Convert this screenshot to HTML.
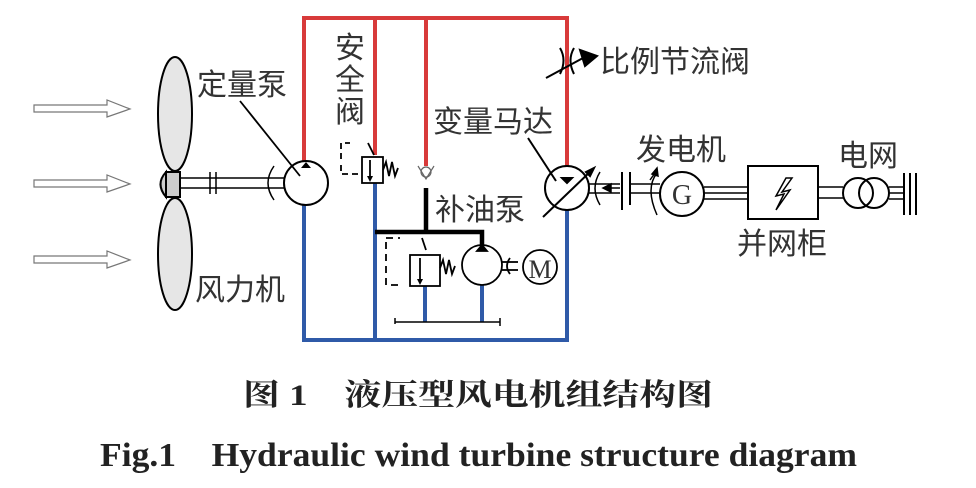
<!DOCTYPE html>
<html><head><meta charset="utf-8"><style>
body{margin:0;background:#fff}
svg{display:block}
text{font-family:"Liberation Sans","Noto Sans CJK SC",sans-serif;fill:#333}
</style></head><body>
<svg width="976" height="488" viewBox="0 0 976 488" xmlns="http://www.w3.org/2000/svg">
<defs>
<marker id="ar" markerUnits="userSpaceOnUse" markerWidth="6" markerHeight="6" refX="3" refY="3" orient="auto"><path d="M0,0 L6,3 L0,6 z" fill="#000"/></marker>
</defs>
<g fill="#fff" stroke="#777" stroke-width="1.2">
<path d="M34,105 H107 V100 L130,109 L107,117 V112 H34 z"/>
<path d="M34,180 H107 V175 L130,184 L107,192 V187 H34 z"/>
<path d="M34,256 H107 V251 L130,260 L107,268 V263 H34 z"/>
</g>
<g stroke="#000" stroke-width="2" fill="#e6e6e6">
<ellipse cx="175" cy="114" rx="17" ry="57"/>
<ellipse cx="175" cy="254" rx="17" ry="56"/>
<path d="M166,172 Q155,184 166,197 z" fill="#ccc"/>
<rect x="166" y="172" width="14" height="25" fill="#ccc"/>
</g>
<g stroke="#000" stroke-width="1.5" fill="none">
<line x1="180" y1="178" x2="284" y2="178"/><line x1="180" y1="188" x2="284" y2="188"/>
<line x1="210" y1="172" x2="210" y2="194"/><line x1="216" y1="172" x2="216" y2="194"/>
<path d="M274,166 Q262,183 274,200"/>
</g>
<g fill="none" stroke-width="4">
<path d="M304,161 V18 H567 V167" stroke="#d83a3a"/>
<path d="M375,18 V155" stroke="#d83a3a"/>
<path d="M426,18 V166" stroke="#d83a3a"/>
<path d="M304,205 V340 H567 V210" stroke="#2f5aa8"/>
<path d="M375,182 V340" stroke="#2f5aa8"/>
<path d="M425,285 V322 M482,285 V322" stroke="#2f5aa8"/>
<path d="M426,188 V232 M375,232 H482 V246" stroke="#000" stroke-width="4.5"/>
</g>
<circle cx="306" cy="183" r="22" fill="#fff" stroke="#000" stroke-width="2"/>
<path d="M301,168 L306,162 L311,168z" fill="#000"/>
<line x1="240" y1="101" x2="300" y2="176" stroke="#000" stroke-width="1.8"/>
<g stroke="#000" stroke-width="1.8" fill="#fff">
<rect x="362" y="157" width="21" height="26"/>
<line x1="370" y1="160" x2="370" y2="179" marker-end="url(#ar)"/>
<path d="M383,170 l3,-8 l3,14 l3,-14 l3,14 l3,-8" fill="none"/>
<path d="M345,143 H350 M341,143 V160 M341,165 V174 H362" fill="none" stroke-dasharray="6,4"/>
<line x1="368" y1="143" x2="374" y2="155"/>
</g>
<g stroke="#666" stroke-width="1.2" fill="#fff">
<circle cx="426" cy="172" r="5"/><path d="M418,166 L426,179 L434,166" fill="none"/>
</g>
<g stroke="#000" stroke-width="1.8" fill="#fff">
<rect x="410" y="255" width="30" height="31"/>
<line x1="420" y1="258" x2="420" y2="282" marker-end="url(#ar)"/>
<path d="M440,268 l3,-8 l3,14 l3,-14 l3,14 l3,-8" fill="none"/>
<path d="M386,238 H400 M386,242 V285 H400" fill="none" stroke-dasharray="7,5"/>
<line x1="422" y1="238" x2="426" y2="250"/>
<circle cx="482" cy="265" r="20"/>
<path d="M477,251 L482,245 L487,251z" fill="#000"/>
<line x1="502" y1="262" x2="518" y2="262"/><line x1="502" y1="270" x2="518" y2="270"/>
<path d="M510,258 Q504,266 510,274" fill="none"/>
<circle cx="540" cy="267" r="17"/>
<path d="M395,324 V318 M395,322 H500 M500,318 V326" fill="none" stroke-width="1.5"/>
</g>
<text x="540" y="278" font-size="26" text-anchor="middle" style="font-family:'Liberation Serif',serif">M</text>
<g stroke="#000" stroke-width="2" fill="none">
<path d="M560,48 Q567,60 560,74 M574,48 Q567,60 574,74"/>
<line x1="546" y1="78" x2="583" y2="58"/>
<path d="M580,50 L597,56 L585,66 z" fill="#000"/>
</g>
<g stroke="#000" stroke-width="2" fill="#fff">
<circle cx="567" cy="188" r="22"/>
<path d="M562,178 L567,183 L572,178 z" fill="#000"/>
<line x1="543" y1="217" x2="593" y2="169"/>
<path d="M586,172 L594,168 L590,176 z" fill="#000"/>
<line x1="528" y1="138" x2="556" y2="181"/>
</g>
<g stroke="#000" stroke-width="1.5" fill="none">
<line x1="589" y1="184" x2="620" y2="184"/><line x1="589" y1="193" x2="620" y2="193"/>
<path d="M600,172 Q590,188 600,205"/>
<path d="M620,188 L605,188" /><path d="M603,188 l8,-4 v8 z" fill="#000"/>
<line x1="622" y1="172" x2="622" y2="210" stroke-width="2"/>
<line x1="630" y1="172" x2="630" y2="205" stroke-width="2"/>
<line x1="630" y1="184" x2="660" y2="184"/><line x1="630" y1="193" x2="660" y2="193"/>
<path d="M657,173 Q645,188 657,215"/>
<path d="M650,180 l5,-7"/><path d="M657,168 l1,8 l-6,-2 z" fill="#000"/>
<circle cx="682" cy="194" r="22" stroke-width="2"/>
<line x1="704" y1="187" x2="748" y2="187"/><line x1="704" y1="193" x2="748" y2="193"/><line x1="704" y1="199" x2="748" y2="199"/>
<rect x="748" y="166" width="70" height="53" stroke-width="2"/>
<line x1="818" y1="187" x2="843" y2="187"/><line x1="818" y1="198" x2="843" y2="198"/>
<circle cx="858" cy="193" r="15" stroke-width="2"/><circle cx="874" cy="193" r="15" stroke-width="2"/>
<line x1="889" y1="187" x2="904" y2="187"/><line x1="889" y1="193" x2="904" y2="193"/><line x1="889" y1="199" x2="904" y2="199"/>
<line x1="904" y1="173" x2="904" y2="215" stroke-width="2"/><line x1="910" y1="173" x2="910" y2="215" stroke-width="2"/><line x1="916" y1="173" x2="916" y2="215" stroke-width="2"/>
</g>
<path d="M786,178 L776,196 L784,194 L776,210 L790,190 L782,192 L792,178 z" fill="#fff" stroke="#000" stroke-width="1.5"/>
<text x="682" y="204" font-size="28" text-anchor="middle" style="font-family:'Liberation Serif',serif">G</text>
<g font-size="30">
<text x="197" y="95">定量泵</text>
<text x="195" y="300">风力机</text>
<text x="335" y="58">安</text><text x="335" y="90">全</text><text x="335" y="122">阀</text>
<text x="433" y="132">变量马达</text>
<text x="435" y="220">补油泵</text>
<text x="600" y="72">比例节流阀</text>
<text x="636" y="160">发电机</text>
<text x="838" y="166">电网</text>
<text x="737" y="254">并网柜</text>
</g>
<text x="478" y="405" font-size="30" font-weight="bold" text-anchor="middle" textLength="470" lengthAdjust="spacingAndGlyphs" style="font-family:'Liberation Serif','Noto Serif CJK SC',serif;fill:#222">图 1　液压型风电机组结构图</text>
<text x="100" y="466" font-size="34" font-weight="bold" textLength="757" lengthAdjust="spacingAndGlyphs" xml:space="preserve" style="font-family:'Liberation Serif',serif;white-space:pre;fill:#222">Fig.1    Hydraulic wind turbine structure diagram</text>
</svg>
</body></html>
